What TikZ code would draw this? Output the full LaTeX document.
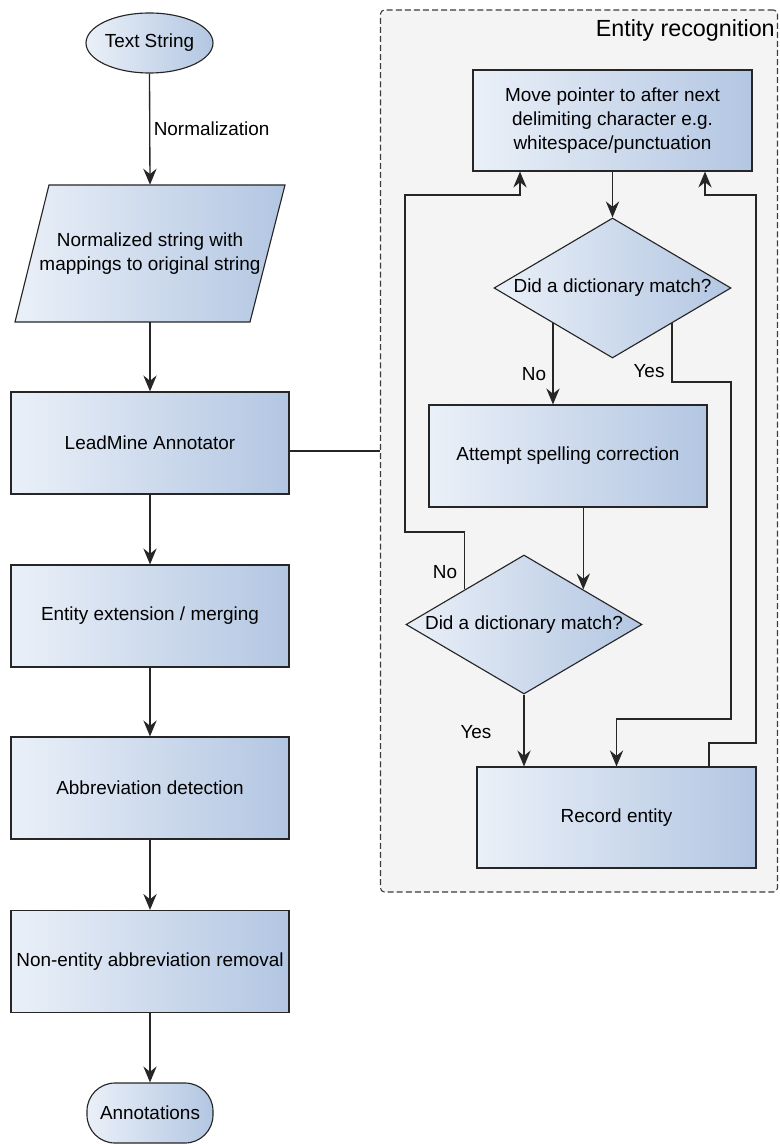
\documentclass[tikz,border=0pt]{standalone}
\usepackage{fontspec}
\setmainfont{Liberation Sans}
\usetikzlibrary{shapes.geometric, arrows.meta}
\definecolor{gl}{HTML}{EAF0F8}
\definecolor{gd}{HTML}{B3C6E2}
\definecolor{ln}{HTML}{262626}
\definecolor{bg}{HTML}{F4F4F4}
\begin{document}
\begin{tikzpicture}[x=0.75pt, y=-0.75pt,
  every node/.style={font=\fontsize{14.2}{18}\selectfont, text=black},
  fillg/.style={left color=gl, right color=gd, draw=ln, line width=0.85pt},
  procbox/.style={fillg, rectangle, minimum width=278*0.75pt, minimum height=102*0.75pt, inner sep=0pt, align=center},
  decision/.style={fillg, diamond, aspect=1.69, inner sep=0pt, minimum width=237*0.75pt, minimum height=140*0.75pt},
  termell/.style={fillg, ellipse, inner sep=0pt, minimum width=127*0.75pt, minimum height=60*0.75pt},
  termround/.style={fillg, rectangle, rounded corners=21pt, inner sep=0pt, minimum width=126*0.75pt, minimum height=60*0.75pt},
  arr/.style={draw=ln, line width=1pt, -{Stealth[length=12pt,width=10pt,inset=4pt]}},
  plain/.style={draw=ln, line width=1pt},
  lbl/.style={inner sep=0pt}
]
\useasboundingbox (0,0) rectangle (779,1144);

% container
\node[draw=ln!90, fill=bg, dash pattern=on 4.5pt off 2.3pt, rounded corners=3pt,
      line width=0.8pt, inner sep=0pt, minimum width=397*0.75pt, minimum height=882*0.75pt] (er) at (579,451) {};
\node[anchor=base east, inner sep=0pt, font=\fontsize{17.5}{20}\selectfont] (ertitle) at (775,37) {Entity recognition};

% left column
\node[termell] (ts) at (149.5,43) {Text String};
\path[fillg] (49,185) -- (285,185) -- (250,322) -- (15,322) -- cycle;
\node[align=center, inner sep=0pt, minimum width=236*0.75pt, minimum height=137*0.75pt] (norm) at (150,253.5) {Normalized string with\\mappings to original string};
\node[procbox] (lead) at (150,443) {LeadMine Annotator};
\node[procbox] (ext) at (150,616) {Entity extension / merging};
\node[procbox] (abbr) at (150,788) {Abbreviation detection};
\node[procbox] (nonent) at (150,961.5) {Non-entity abbreviation removal};
\node[termround] (ann) at (150,1113) {Annotations};

\draw[arr] (ts.south) -- (norm.north) node[lbl, pos=0.5, anchor=west, xshift=2.5pt] (normlbl) {Normalization};
\draw[arr] (norm.south) -- (lead.north);
\draw[arr] (lead.south) -- (ext.north);
\draw[arr] (ext.south) -- (abbr.north);
\draw[arr] (abbr.south) -- (nonent.north);
\draw[arr] (nonent.south) -- (ann.north);
\draw[plain] (er.west) -- (er.west -| lead.east);

% right column
\node[procbox, minimum width=279*0.75pt, minimum height=101*0.75pt] (mp) at (612.5,120.5) {Move pointer to after next\\delimiting character e.g.\\whitespace/punctuation};
\node[decision] (d1) at (612.5,288) {Did a dictionary match?};
\node[procbox] (at) at (568,456) {Attempt spelling correction};
\node[decision, minimum width=236*0.75pt, minimum height=139*0.75pt] (d2) at (524,624.5) {Did a dictionary match?};
\node[procbox, minimum width=279*0.75pt, minimum height=101*0.75pt] (rec) at (616.5,817.5) {Record entity};

\coordinate (y1) at (731,382);
\coordinate (y2) at (731,719);
\coordinate (n1) at (405,532);
\coordinate (n3) at (520,195);
\coordinate (r0) at (709,743);
\coordinate (r1) at (756,743);
\coordinate (r2) at (705,195);

\draw[arr] (mp.south) -- (d1.north);
\draw[arr] (d1.south west) -- (d1.south west |- at.north);
\draw[arr] (d1.south east) |- (y1) -- (y2) -| (rec.north);
\draw[arr] (at.south -| d2.north east) -- (d2.north east);
\draw[arr] (d2.north west) |- (n1) |- (n3) -- (n3 |- mp.south);
\draw[arr] (d2.south) -- (d2.south |- rec.north);
\draw[arr] (r0 |- rec.north) -- (r0) -- (r1) |- (r2) -- (r2 |- mp.south);

\node[lbl] (no1) at (534,374) {No};
\node[lbl] (yes1) at (649,371) {Yes};
\node[lbl] (no2) at (445,572) {No};
\node[lbl] (yes2) at (476,732) {Yes};
\end{tikzpicture}
\end{document}
